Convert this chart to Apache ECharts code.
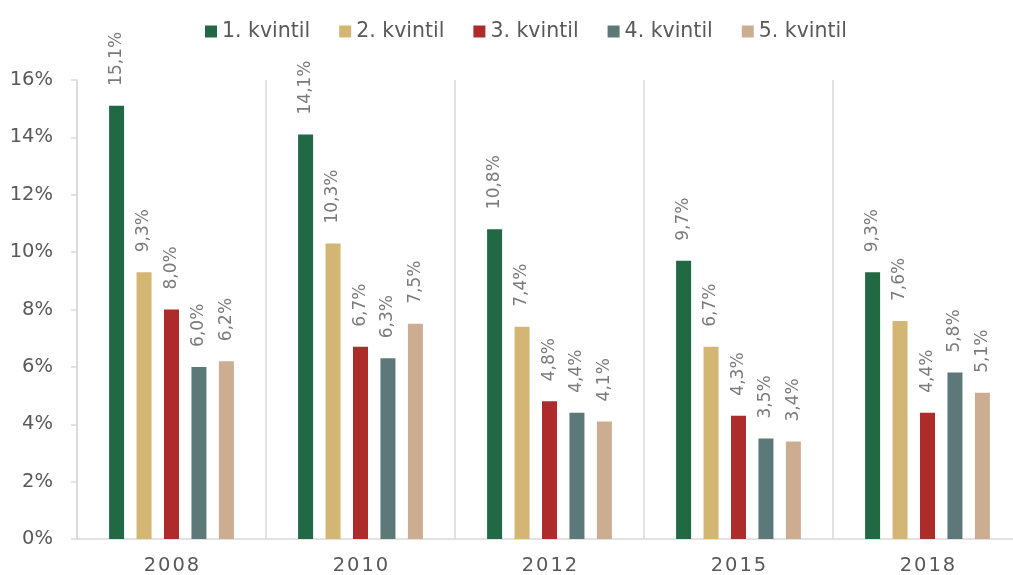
<!DOCTYPE html>
<html><head><meta charset="utf-8">
<script src="https://cdn.jsdelivr.net/npm/echarts@6/dist/echarts.min.js"></script>
<style>html,body{margin:0;padding:0;background:#fff}#c{width:1013px;height:575px}</style>
</head><body><div id="c"></div>
<script>
const categories = ['2008', '2010', '2012', '2015', '2018'];
const seriesNames = ['1. kvintil', '2. kvintil', '3. kvintil', '4. kvintil', '5. kvintil'];
const q1 = [15.1, 14.1, 10.8, 9.7, 9.3];
const q2 = [9.3, 10.3, 7.4, 6.7, 7.6];
const q3 = [8.0, 6.7, 4.8, 4.3, 4.4];
const q4 = [6.0, 6.3, 4.4, 3.5, 5.8];
const q5 = [6.2, 7.5, 4.1, 3.4, 5.1];
const yTicks = [0, 2, 4, 6, 8, 10, 12, 14, 16];
const colors = ['#216845', '#D3B574', '#AD2B2A', '#5D7878', '#CDAD91'];
const FONT = 'DejaVu Sans';
const data = [q1, q2, q3, q4, q5];
const chart = echarts.init(document.getElementById('c'));
chart.setOption({
  animation: false,
  color: colors,
  legend: {
    top: 16, left: 200, itemWidth: 12, itemHeight: 12, itemGap: 29,
    icon: 'rect',
    textStyle: { fontFamily: FONT, fontSize: 20.5, color: '#595959' },
    data: seriesNames
  },
  grid: { left: 77, width: 945, top: 80, bottom: 36, containLabel: false, outerBoundsMode: 'none' },
  xAxis: {
    type: 'category', data: categories,
    axisLine: { lineStyle: { color: '#d9d9d9', width: 1.5 } },
    axisTick: { show: false },
    splitLine: { show: true, lineStyle: { color: '#d9d9d9', width: 1.5 } },
    axisLabel: { fontFamily: FONT, fontSize: 19.5, color: '#595959', margin: 17,
      formatter: v => v.split('').join('\u200A') }
  },
  yAxis: {
    type: 'value', min: yTicks[0], max: yTicks[yTicks.length - 1], interval: 2,
    axisLine: { show: true, lineStyle: { color: '#d9d9d9', width: 1.5 } },
    axisTick: { show: true, length: 6, lineStyle: { color: '#d9d9d9', width: 1.5 } },
    splitLine: { show: false },
    axisLabel: { fontFamily: FONT, fontSize: 19.5, color: '#595959', margin: 24,
      formatter: v => v + '%' }
  },
  series: data.map((d, i) => ({
    name: seriesNames[i], type: 'bar', data: d,
    barWidth: 15, barGap: '83%', barCategoryGap: '34%',
    label: {
      show: true, position: 'top', rotate: 90, align: 'left', verticalAlign: 'middle',
      distance: 20, fontFamily: FONT, fontSize: 17, color: '#7a7a7a',
      formatter: p => p.value.toFixed(1).replace('.', ',') + '%'
    }
  }))
});
</script></body></html>
